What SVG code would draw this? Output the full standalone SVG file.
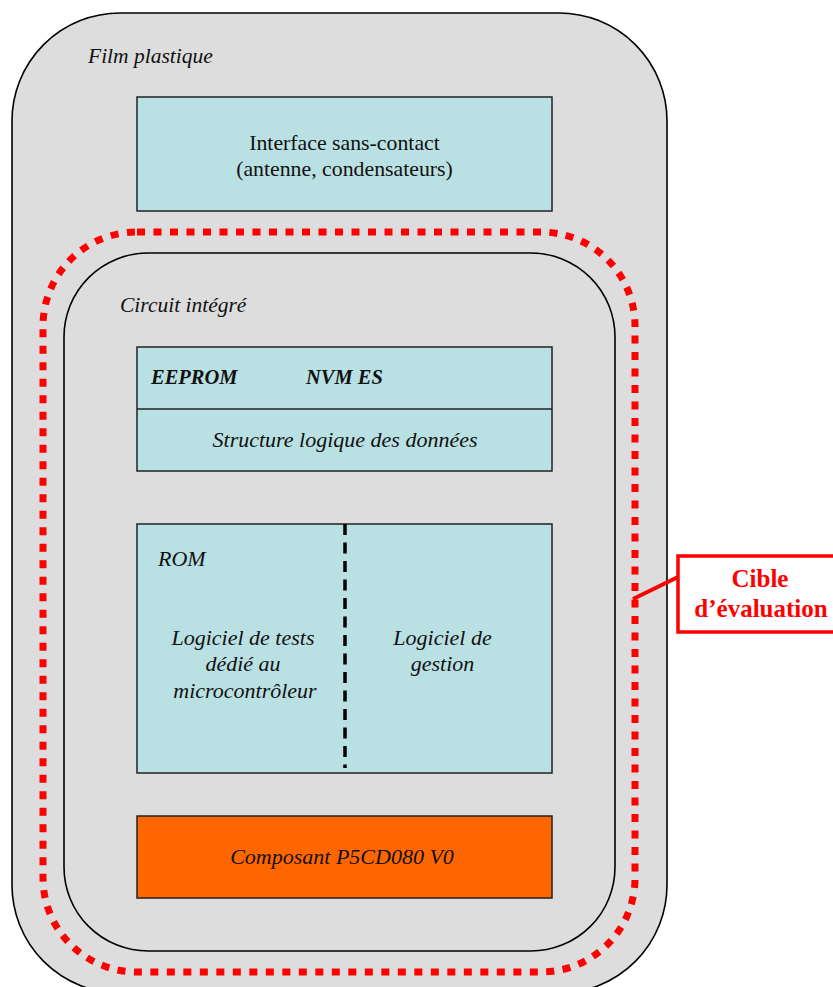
<svg xmlns="http://www.w3.org/2000/svg" width="833" height="987" viewBox="0 0 833 987">
<style>
.t{font-family:"Liberation Serif","Times New Roman",serif;fill:#111;}
.i{font-style:italic;font-size:22px;}
.b{font-weight:bold;font-size:20.5px;}
.box{fill:#B9E0E3;stroke:#222;stroke-width:1.5;}
.red{font-family:"Liberation Serif","Times New Roman",serif;font-weight:bold;fill:#FF0000;font-size:25px;}
</style>
<rect width="833" height="987" fill="#FFFFFF"/>
<g id="film">
<rect x="12" y="13" width="655" height="980" rx="108" ry="108" fill="#DDDDDD" stroke="#000" stroke-width="1.6"/>
<text class="t i" x="88" y="63" style="font-size:21.5px">Film plastique</text>
</g>
<g id="interface">
<rect class="box" x="137" y="97" width="415" height="114"/>
<text class="t" x="344.5" y="150" font-size="21.8" text-anchor="middle">Interface sans-contact</text>
<text class="t" x="344.5" y="176" font-size="21.8" text-anchor="middle">(antenne, condensateurs)</text>
</g>
<g id="circuit">
<rect x="64" y="253" width="551" height="698" rx="84" ry="84" fill="#DDDDDD" stroke="#000" stroke-width="1.6"/>
<text class="t i" x="120" y="312" style="font-size:21.5px">Circuit intégré</text>
</g>
<g id="eeprom">
<rect class="box" x="137" y="347" width="415" height="124"/>
<line x1="137" y1="409" x2="552" y2="409" stroke="#222" stroke-width="1.5"/>
<text class="t i b" x="151" y="384">EEPROM</text>
<text class="t i b" x="306" y="384">NVM ES</text>
<text class="t i" x="345" y="447" text-anchor="middle">Structure logique des données</text>
</g>
<g id="rom">
<rect class="box" x="137" y="524" width="415" height="249"/>
<line x1="345" y1="524" x2="345" y2="768" stroke="#000" stroke-width="3.5" stroke-dasharray="11 7.5"/>
<text class="t i" x="158" y="566">ROM</text>
<text class="t i" x="243" y="645" text-anchor="middle">Logiciel de tests</text>
<text class="t i" x="243" y="671" text-anchor="middle">dédié au</text>
<text class="t i" x="245" y="698" text-anchor="middle">microcontrôleur</text>
<text class="t i" x="442.5" y="645" text-anchor="middle">Logiciel de</text>
<text class="t i" x="442.5" y="671" text-anchor="middle">gestion</text>
</g>
<g id="composant">
<rect x="137" y="816" width="415" height="82" fill="#FF6600" stroke="#222" stroke-width="1.5"/>
<text class="t i" x="342" y="864" text-anchor="middle">Composant P5CD080 V0</text>
</g>
<g id="toe">
<rect x="43" y="232" width="592" height="740" rx="94" ry="94" fill="none" stroke="#FF0000" stroke-width="7" stroke-dasharray="8 8.5"/>
</g>
<g id="connectors">
<line x1="633" y1="599" x2="678" y2="577" stroke="#FF0000" stroke-width="4"/>
</g>
<g id="cible">
<rect x="678" y="556" width="170" height="76" fill="#FFFFFF" stroke="#FF0000" stroke-width="3.5"/>
<text class="red" x="760" y="587" text-anchor="middle">Cible</text>
<text class="red" x="761" y="617" text-anchor="middle">d’évaluation</text>
</g>
</svg>
